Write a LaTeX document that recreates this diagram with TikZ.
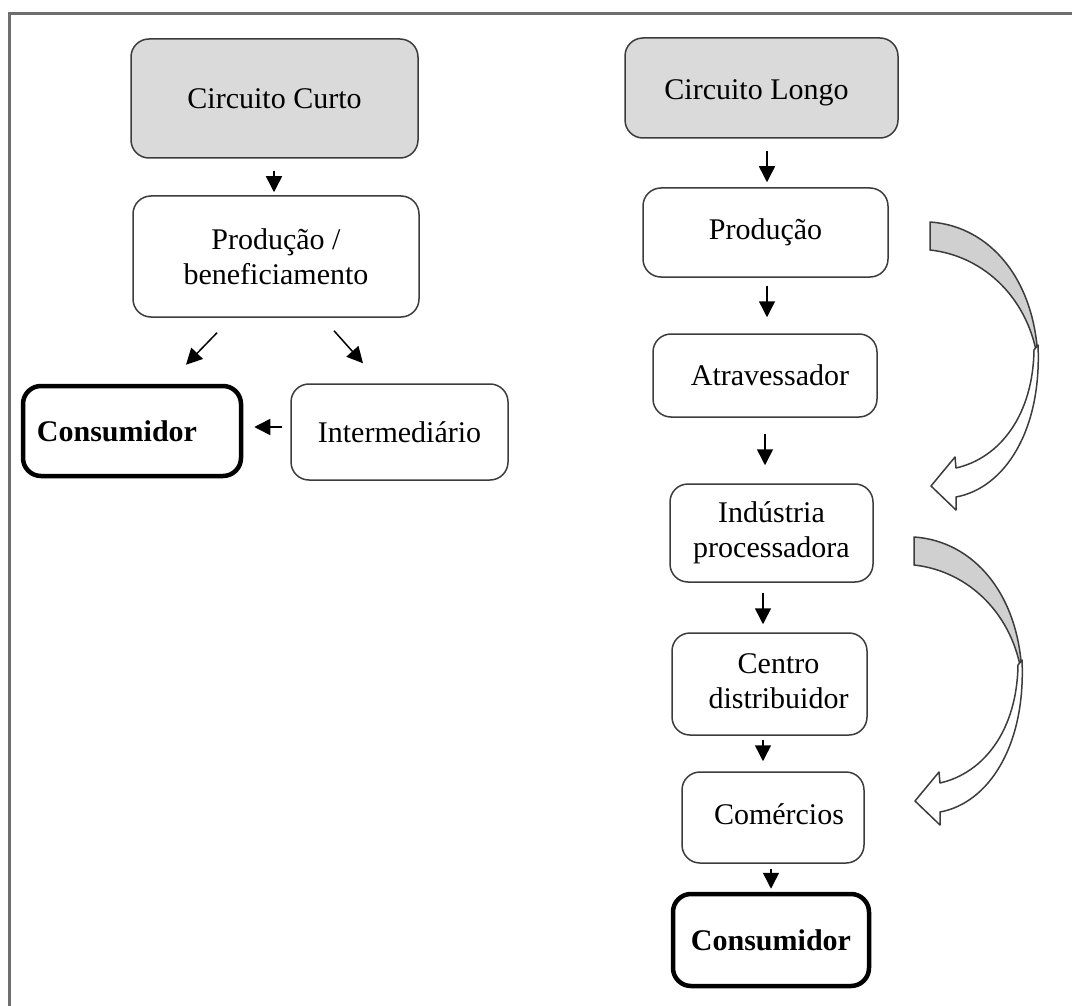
\documentclass[tikz,border=0pt]{standalone}
\usepackage{fontspec}
\setmainfont{Liberation Serif}
\usetikzlibrary{calc,arrows.meta}
\definecolor{headgray}{RGB}{218,218,218}
\definecolor{boxline}{RGB}{60,60,60}
\definecolor{framegray}{RGB}{110,110,110}
\definecolor{bandgray}{RGB}{208,208,208}
\tikzset{
  box/.style={draw=boxline, line width=1.5pt, rounded corners=18pt, inner sep=0pt,
    align=center, font=\fontsize{30}{35}\selectfont},
  headbox/.style={box, fill=headgray},
  endbox/.style={box, draw=black, line width=4.5pt, font=\fontsize{30}{35}\selectfont\bfseries},
  arr/.style={draw=black, line width=1.5pt, -{Triangle[width=16pt,length=16pt]}},
  curlarrow/.pic={
    \filldraw[fill=bandgray, draw=boxline, line width=1.5pt, line join=round]
      (930,222) .. controls (990,226) and (1036,280) .. (1038,362)
      .. controls (1030,300) and (985,256) .. (930,250) -- cycle;
    \filldraw[fill=white, draw=boxline, line width=1.5pt, line join=round]
      (1038,345) .. controls (1042,430) and (1005,488) .. (956,497)
      -- (956,510) -- (931,486) -- (955,457) -- (956,468)
      .. controls (1000,458) and (1033,415) .. (1034,350) -- cycle;
  }
}
\begin{document}
\begin{tikzpicture}[x=1pt,y=-1pt]
\useasboundingbox (0,0) rectangle (1072,1006);
% outer frame
\draw[framegray, line width=3pt] (9,1010) -- (9,14) -- (1076,14);

% left column
\node[headbox, minimum width=287pt, minimum height=119pt] (cc) at (274.5,98.5) {Circuito Curto};
\node[box, minimum width=286pt, minimum height=121pt] (pb) at (276,256.5) {Produção /\\beneficiamento};
\node[endbox, minimum width=218pt, minimum height=90pt] (cons1) at (132,431) {Consumidor\hspace*{30pt}};
\node[box, minimum width=217pt, minimum height=96pt] (inter) at (399.5,432) {Intermediário};

% right column
\node[headbox, minimum width=273pt, minimum height=100pt, text height=30pt, text depth=6pt] (cl) at (761.5,88) {Circuito Longo\hspace*{10pt}};
\node[box, minimum width=245pt, minimum height=89pt] (prod) at (765.5,232.5) {Produção};
\node[box, minimum width=224pt, minimum height=83pt] (atr) at (765,375.5) {\hspace*{10pt}Atravessador};
\node[box, minimum width=203pt, minimum height=98pt] (ind) at (771.5,533) {Indústria\\processadora};
\node[box, minimum width=195pt, minimum height=102pt] (cen) at (769.5,684) {\hspace*{18pt}\raisebox{6pt}{\begin{tabular}{@{}c@{}}Centro\\distribuidor\end{tabular}}};
\node[box, minimum width=182pt, minimum height=91pt] (com) at (773,817.5) {\hspace*{12pt}\raisebox{7pt}{Comércios}};
\node[endbox, minimum width=196pt, minimum height=92pt] (cons2) at (771,940) {Consumidor};

% connectors left
\draw[arr] ($(cc.south)+(-0.5,12)$) -- ($(pb.north)+(-2,-3)$);
\draw[arr] ($(pb.south)+(-59,15)$) -- ($(cons1.north)+(54,-19)$);
\draw[arr] ($(pb.south)+(58,13)$) -- ($(inter.north)+(-36.5,-20)$);
\draw[arr] ($(inter.west)+(-8,-5)$) -- ($(cons1.east)+(11,-4)$);

% connectors right
\draw[arr] ($(cl.south)+(5.5,12)$) -- ($(prod.north)+(1.5,-5)$);
\draw[arr] ($(prod.south)+(1.5,8)$) -- ($(atr.north)+(2,-16)$);
\draw[arr] ($(atr.south)+(0,16)$) -- ($(ind.north)+(-6.5,-18)$);
\draw[arr] ($(ind.south)+(-8.5,10)$) -- ($(cen.north)+(-6.5,-8)$);
\draw[arr] ($(cen.south)+(-6.5,4)$) -- ($(com.north)+(-10,-10)$);
\draw[arr] ($(com.south)+(-2,5)$) -- ($(cons2.north)+(0,-3)$);

% curved block arrows
\pic at (0,0) {curlarrow};
\pic at (-16,315) {curlarrow};
\end{tikzpicture}
\end{document}
